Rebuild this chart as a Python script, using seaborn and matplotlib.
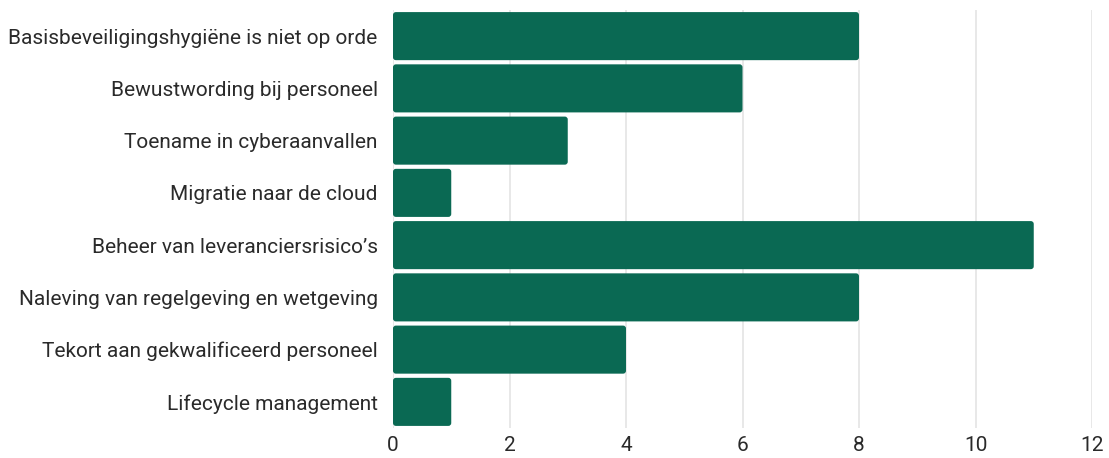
import matplotlib
matplotlib.use("Agg")
import matplotlib.pyplot as plt
from matplotlib.patches import FancyBboxPatch
import seaborn as sns
import pandas as pd

categories = [
    "Basisbeveiligingshygiëne is niet op orde",
    "Bewustwording bij personeel",
    "Toename in cyberaanvallen",
    "Migratie naar de cloud",
    "Beheer van leveranciersrisico’s",
    "Naleving van regelgeving en wetgeving",
    "Tekort aan gekwalificeerd personeel",
    "Lifecycle management",
]
values = [8, 6, 3, 1, 11, 8, 4, 1]
x_ticks = [0, 2, 4, 6, 8, 10, 12]

df = pd.DataFrame({"cat": categories, "val": values})

sns.set_theme(style="white")
plt.rcParams["font.family"] = ["Roboto", "DejaVu Sans"]

fig = plt.figure(figsize=(11.09, 4.58), dpi=100)
ax = fig.add_axes([393 / 1109, 1 - 428 / 458, (1092 - 393) / 1109, (428 - 10) / 458])

color = "#0a6953"
sns.barplot(data=df, x="val", y="cat", color=color, saturation=1, width=0.92,
            ax=ax, zorder=3, edgecolor="none", linewidth=0)

# round the bar corners slightly
for p in list(ax.patches):
    x0, y0 = p.get_x(), p.get_y()
    w, h = p.get_width(), p.get_height()
    p.set_visible(False)
    fb = FancyBboxPatch((x0, y0), w, h,
                        boxstyle="round,pad=0,rounding_size=0.05",
                        mutation_aspect=1.115,
                        facecolor=color, edgecolor="none", zorder=3)
    ax.add_patch(fb)

ax.set_xlim(0, 12)
ax.set_ylim(7.5, -0.5)
ax.set_xticks(x_ticks)
ax.set_xticklabels([str(t) for t in x_ticks], fontsize=15, color="#2a2a2a")
ax.tick_params(axis="y", labelsize=15, labelcolor="#2a2a2a", length=0, pad=11)
ax.tick_params(axis="x", length=0, pad=6)
ax.set_xlabel("")
ax.set_ylabel("")
ax.grid(axis="x", color="#e4e4e4", linewidth=1.2, zorder=0)
ax.grid(axis="y", visible=False)
for s in ax.spines.values():
    s.set_visible(False)

fig.savefig("out.png", dpi=100, facecolor="white")
